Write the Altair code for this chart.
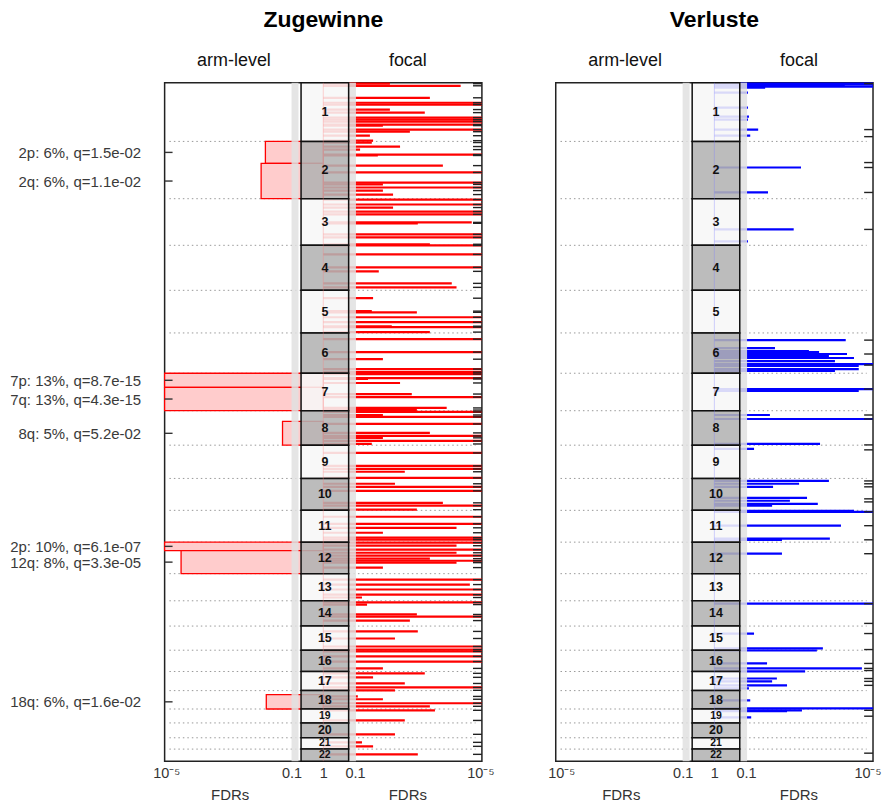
import altair as alt
import numpy as np
import pandas as pd

# ---------------- data ----------------
chrom_names = [str(i) for i in range(1, 23)]
chrom_len = [249.25, 243.2, 198.02, 191.15, 180.92, 171.12, 159.14, 146.36, 141.21, 135.53, 135.01,
             133.85, 115.17, 107.35, 102.53, 90.35, 81.2, 78.08, 59.13, 63.03, 48.13, 51.3]
centromere = [125.0, 93.3, 91.0, 50.4, 48.4, 61.0, 59.9, 45.6, 49.0, 40.2, 53.7, 35.8, 17.9, 17.6,
              19.0, 36.6, 24.0, 17.2, 26.5, 27.5, 13.2, 14.7]

gain_arms = ["2p", "2q", "7p", "7q", "8q", "12p", "12q", "18q"]
gain_arm_q = [1.5e-2, 1.1e-2, 8.7e-15, 4.3e-15, 5.2e-2, 6.1e-7, 3.3e-5, 1.6e-2]
gain_arm_labels = ["2p: 6%, q=1.5e-02", "2q: 6%, q=1.1e-02", "7p: 13%, q=8.7e-15",
                   "7q: 13%, q=4.3e-15", "8q: 5%, q=5.2e-02", "2p: 10%, q=6.1e-07",
                   "12q: 8%, q=3.3e-05", "18q: 6%, q=1.6e-02"]

# focal gains: genome position (Mb, cumulative) and -log10(q)
gain_focal_pos = [4, 13, 64, 85, 93, 114, 127, 148, 157, 165, 178, 182, 199, 208, 225, 246, 254, 271, 284,
                  305, 309, 352, 381, 424, 432, 445, 458, 475, 496, 517, 530, 547, 559, 593, 597, 644, 657,
                  686, 691, 729, 784, 801, 852, 869, 915, 970, 975, 996, 1017, 1034, 1038, 1059, 1089,
                  1144, 1174, 1216, 1229, 1237, 1254, 1258, 1275, 1322, 1335, 1381, 1390, 1398, 1411,
                  1419, 1449, 1487, 1500, 1508, 1521, 1534, 1572, 1627, 1640, 1652, 1678, 1703, 1716,
                  1733, 1784, 1796, 1813, 1843, 1873, 1890, 1911, 1932, 1940, 1953, 1966, 1983, 1996,
                  2008, 2021, 2030, 2038, 2059, 2110, 2131, 2152, 2174, 2186, 2207, 2216, 2258, 2267,
                  2284, 2330, 2360, 2394, 2407, 2415, 2436, 2458, 2487, 2508, 2525, 2551, 2568, 2580,
                  2606, 2618, 2635, 2648, 2665, 2708, 2767, 2801, 2818, 2852]
gain_focal_nlq = [2.1, 4.33, 3.36, 6, 6, 2.1, 3.2, 6, 6, 6, 6, 1.88, 6, 2.73, 1.47, 1.57, 1.53, 2.42, 1.16,
                  6, 1.72, 3.77, 6, 6, 1.88, 6, 1.88, 2.2, 6, 6, 2.2, 6, 6, 4.68, 2.98, 6, 6,
                  3.36, 6, 6, 6, 1.75, 4.05, 4.2, 1.57, 1.53, 2.95, 6, 6, 2.16, 6, 3.36, 6,
                  6, 1.88, 6, 6, 6, 6, 1.41, 2.42, 2.79, 6, 3.89, 2.95, 6, 1.88,
                  6, 6, 3.36, 6, 1.88, 6, 1.53, 6, 6, 6, 2.57, 6, 2.26, 6,
                  6, 3.77, 6, 2.95, 6, 6, 4.2, 1.88, 6, 6, 6, 4.2, 6, 4.2,
                  6, 3.36, 6, 4.2, 1.88, 6, 4.62, 6, 6, 1.22, 6, 1.38, 2.95, 6,
                  2.73, 2.98, 2.26, 6, 6, 6, 6, 6, 1.88, 3.2, 1.57, 2.57, 6, 2.26,
                  1.09, 1.88, 6, 3.36, 3.52, 2.57, 2.26, 1.22, 1.57, 2.98]

# focal losses
loss_focal_pos = [4, 8, 13, 17, 21, 42, 106, 144, 157, 199, 225, 360, 466, 623, 674, 1093, 1127, 1140,
                  1144, 1152, 1161, 1169, 1182, 1195, 1203, 1216, 1224, 1301, 1309, 1411, 1428, 1534,
                  1555, 1691, 1703, 1716, 1763, 1775, 1788, 1796, 1818, 1822, 1881, 1936, 1941, 2000,
                  2212, 2339, 2402, 2411, 2466, 2487, 2500, 2530, 2542, 2559, 2572, 2623, 2657, 2665,
                  2669, 2695]
loss_focal_nlq = [6, 6, 4.11, 6, 1.6, 1.06, 1.06, 1.09, 1.06, 1.38, 1.13, 2.73, 1.69, 2.5, 1.06, 4.14,
                  1.91, 2.98, 3.3, 4.18, 3.61, 4.4, 3.8, 6, 4.55, 4.55, 3.8, 6, 4.55, 1.75, 6, 3.33,
                  1.25, 3.61, 2.67, 1.85, 2.92, 2.38, 3.26, 1.82, 4.4, 6, 3.99, 3.64, 2.13, 2.13,
                  6, 1.25, 3.42, 3.23, 1.66, 4.65, 2.86, 1.97, 1.82, 2.29, 1.09, 1.13, 6, 2.76,
                  2.29, 1.16]
loss_peak_pos = [4, 199, 229, 339, 360, 466, 623, 1093, 1152, 1199, 1301, 1411, 1428, 1538, 1559, 1691,
                 1703, 1716, 1767, 1780, 1822, 1881, 1941, 2000, 2212, 2296, 2339, 2407, 2466, 2487,
                 2496, 2530, 2542, 2559, 2665, 2690, 2847]
gain_peak_pos = gain_focal_pos

# ---------------- derived tables ----------------
offsets = np.concatenate([[0.0], np.cumsum(chrom_len)[:-1]])
total = float(np.sum(chrom_len))

chrom_df = pd.DataFrame({
    "name": chrom_names,
    "start": offsets,
    "end": offsets + np.array(chrom_len),
})
chrom_df["mid"] = (chrom_df["start"] + chrom_df["end"]) / 2
chrom_df["fill"] = ["#f7f7f7" if i % 2 == 0 else "#b3b3b3" for i in range(22)]
chrom_df["fs"] = [12.5 if L > 62 else 10.5 for L in chrom_len]
chrom_df["x0"] = 4.3
chrom_df["x1"] = 5.8
chrom_df["xm"] = 5.05

bound_df = pd.DataFrame({"b": offsets[1:]})
bound_df["x0"] = 0.15
bound_df["x1"] = 9.8


def arm_span(arm):
    ci = int(arm[:-1]) - 1
    if arm[-1] == "p":
        return offsets[ci], offsets[ci] + centromere[ci]
    return offsets[ci] + centromere[ci], offsets[ci] + chrom_len[ci]


arm_rows = []
for a, q, lab in zip(gain_arms, gain_arm_q, gain_arm_labels):
    s0, s1 = arm_span(a)
    arm_rows.append({"arm": a, "y0": s0, "y1": s1, "ym": round((s0 + s1) / 2, 2),
                     "xq": 5 + np.log10(q), "x5": 5.0, "label": lab})
arm_df = pd.DataFrame(arm_rows)

arm_mids = list(arm_df["ym"])
expr = "''"
order = sorted(zip(arm_mids, gain_arm_labels), key=lambda t: t[0], reverse=True)
for i, (m, lab) in enumerate(order):
    if i == 0:
        expr = "'" + lab + "'"
    else:
        thr = (m + order[i - 1][0]) / 2
        expr = "datum.value < %.2f ? '%s' : (%s)" % (thr, lab, expr)

band_df = pd.DataFrame({"x0": [4.0, 5.8], "x1": [4.22, 6.03], "y0": [0.0, 0.0], "y1": [total, total]})

FONT = "Liberation Sans"
xs = alt.Scale(domain=[0, 10], clamp=True, nice=False, zero=False)
ys = alt.Scale(domain=[0, total], reverse=True, nice=False, zero=False)

top_axis = alt.Axis(orient="top", values=[2.17, 7.65],
                    labelExpr="datum.value < 5 ? 'arm-level' : 'focal'",
                    ticks=False, domain=False, grid=False, labelFlush=False, labelPadding=13,
                    labelFontSize=18, labelColor="#111111", labelFont=FONT, title=None)
fdr_axis = alt.Axis(orient="bottom", values=[2.05, 7.65], labelExpr="'FDRs'",
                    ticks=False, domain=False, grid=False, labelFlush=False, labelPadding=2,
                    offset=24, labelFontSize=15, labelColor="#333333", labelFont=FONT, title=None)


def make_panel(title, color, faint, focal_pos, focal_nlq, peaks, with_arms, flush_off):
    if with_arms:
        yax = alt.Axis(values=arm_mids, labelExpr=expr, ticks=False, domain=False, grid=False,
                       labelPadding=24, labelFontSize=15, labelColor="#3a3a3a", labelFont=FONT,
                       title=None)
    else:
        yax = None

    bottom_axis = alt.Axis(orient="bottom", values=[0, 4, 5, 6, 10],
                           labelExpr="datum.value == 5 ? '1' : ((datum.value == 4 || datum.value == 6) ? '0.1' : '10⁻⁵')",
                           ticks=False, domain=False, grid=False, labelFlush=True,
                           labelFlushOffset=flush_off, labelPadding=5,
                           labelFontSize=14.5, labelColor="#333333", labelFont=FONT, title=None)

    def Y(f):
        return alt.Y(f, type="quantitative", scale=ys, axis=yax)

    focal_df = pd.DataFrame({"pos": focal_pos, "nlq": focal_nlq})
    focal_df["x5"] = 5.0
    focal_df["xe"] = 5.0 + focal_df["nlq"]

    peak_df = pd.DataFrame({"pos": peaks})
    peak_df["x0"] = 9.72
    peak_df["x1"] = 10.0

    layers = []
    layers.append(alt.Chart(bound_df).mark_rule(color="#999999", strokeDash=[1.5, 3], strokeWidth=1).encode(
        x=alt.X("x0:Q", scale=xs, axis=bottom_axis), x2="x1:Q", y=Y("b")))
    if with_arms:
        layers.append(alt.Chart(arm_df).mark_rect(fill="#ffcccc", stroke="#ff0000", strokeWidth=1.3).encode(
            x=alt.X("xq:Q", scale=xs, axis=None), x2="x5:Q", y=Y("y0"), y2="y1:Q"))
    layers.append(alt.Chart(focal_df).mark_rule(color=color, strokeWidth=2.2).encode(
        x=alt.X("x5:Q", scale=xs, axis=None), x2="xe:Q", y=Y("pos")))
    layers.append(alt.Chart(band_df).mark_rect(fill="#e0e0e0", opacity=0.85).encode(
        x=alt.X("x0:Q", scale=xs, axis=top_axis), x2="x1:Q", y=Y("y0"), y2="y1:Q"))
    layers.append(alt.Chart(chrom_df).mark_rect(stroke="#111111", strokeWidth=1.5, fillOpacity=0.88).encode(
        x=alt.X("x0:Q", scale=xs, axis=fdr_axis), x2="x1:Q", y=Y("start"), y2="end:Q",
        fill=alt.Fill("fill:N", scale=None)))
    layers.append(alt.Chart(band_df.iloc[:1]).mark_rule(color=faint, strokeWidth=1, opacity=0.35).encode(
        x=alt.X("x1:Q", scale=xs, axis=None), y=Y("y0"), y2="y1:Q").transform_calculate(x1="5"))
    layers.append(alt.Chart(chrom_df).mark_text(fontWeight="bold", font=FONT, color="#111111").encode(
        x=alt.X("xm:Q", scale=xs, axis=None), y=Y("mid"), text="name:N",
        size=alt.Size("fs:Q", scale=None)))
    layers.append(alt.Chart(peak_df).mark_rule(color="#222222", strokeWidth=1.4).encode(
        x=alt.X("x0:Q", scale=xs, axis=None), x2="x1:Q", y=Y("pos")))
    if with_arms:
        tick_df = arm_df[["ym"]].copy()
        tick_df["x0"] = 0.0
        tick_df["x1"] = 0.25
        layers.append(alt.Chart(tick_df).mark_rule(color="#333333", strokeWidth=1.4).encode(
            x=alt.X("x0:Q", scale=xs, axis=None), x2="x1:Q", y=Y("ym")))

    return alt.layer(*layers).resolve_axis(x="independent").properties(
        width=318, height=680,
        title=alt.TitleParams(title, fontSize=23, fontWeight="bold", font=FONT, anchor="middle",
                              offset=20, color="#000000"))


left = make_panel("Zugewinne", "#ff0000", "#ff8080", gain_focal_pos, gain_focal_nlq, gain_peak_pos, True, 12)
right = make_panel("Verluste", "#0000ff", "#8080ff", loss_focal_pos, loss_focal_nlq, loss_peak_pos, False, 8)

chart = alt.hconcat(left, right, spacing=52).properties(
    padding={"left": 8, "top": 7, "right": 0, "bottom": 0}
).configure_view(stroke="#222222", strokeWidth=1.5).configure_axis(grid=False)

chart.save("out.html", embed_options={"renderer": "svg", "actions": False})
